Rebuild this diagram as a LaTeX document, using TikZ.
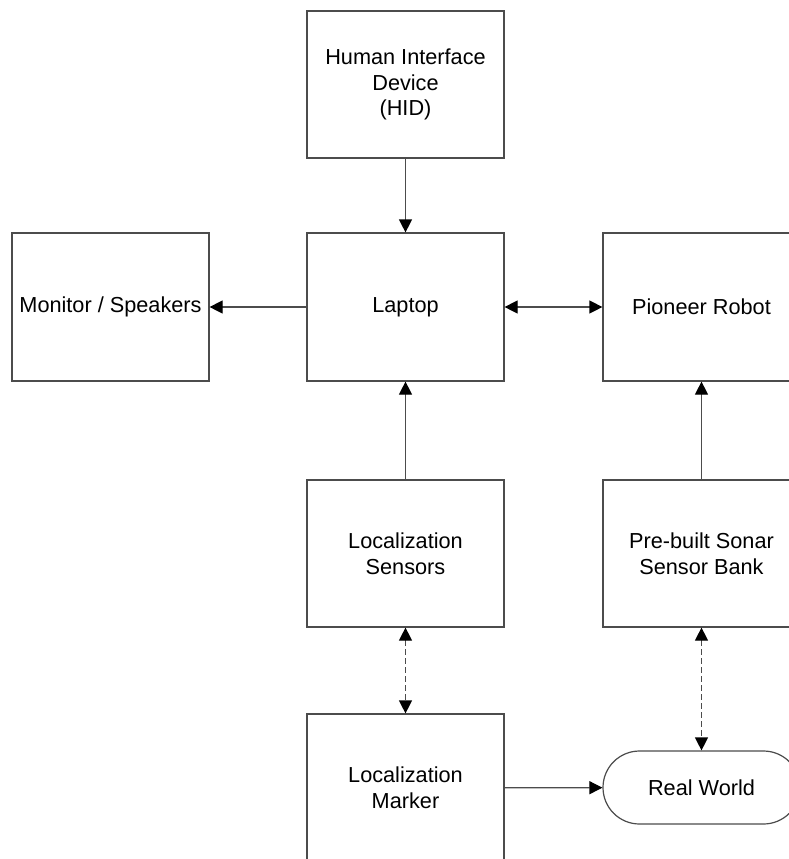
\documentclass[tikz,border=0pt]{standalone}
\usepackage{fontspec}
\setmainfont{Liberation Sans}
\usetikzlibrary{arrows.meta}
\tikzset{
  block/.style={draw=black!70, line width=0.6pt, fill=white, align=center,
    font=\fontsize{10.85}{12.9}\selectfont, inner sep=0pt,
    minimum width=98.5pt, minimum height=74pt},
  link/.style={draw=black!70, line width=0.6pt, -{Triangle[length=6.5pt,width=6.5pt,color=black]}},
  biglink/.style={link, {Triangle[length=6.5pt,width=6.5pt,color=black]}-{Triangle[length=6.5pt,width=6.5pt,color=black]}},
  radiolink/.style={biglink, dash pattern=on 3pt off 1.5pt}
}
\begin{document}
\begin{tikzpicture}[x=0.5pt, y=-0.5pt]
  \useasboundingbox (0,0) rectangle (789,859);
  \clip (0,0) rectangle (789,859);
  % blocks
  \node[block, minimum height=73.5pt] (hid) at (405.5, 84.5) {Human Interface\\Device\\(HID)};
  \node[block] (monitor) at (110.5, 307) {Monitor / Speakers};
  \node[block] (laptop) at (405.5, 307) {Laptop};
  \node[block] (robot) at (701.5, 307) {Pioneer Robot};
  \node[block, minimum height=73.5pt] (locsensors) at (405.5, 553.5) {Localization\\Sensors};
  \node[block, minimum height=73.5pt] (sonar) at (701.5, 553.5) {Pre-built Sonar\\Sensor Bank};
  \node[block] (locmarker) at (405.5, 788) {Localization\\Marker};
  \node[block, minimum height=36.5pt, rounded corners=18.25pt] (world) at (701.5, 787.5) {Real World};
  % connectors
  \draw[link] (hid) -- (laptop);
  \draw[link] (laptop) -- (monitor);
  \draw[biglink] (laptop) -- (robot);
  \draw[link] (locsensors) -- (laptop);
  \draw[link] (sonar) -- (robot);
  \draw[radiolink] (locsensors) -- (locmarker);
  \draw[radiolink] (sonar) -- (world);
  \draw[link] (locmarker) -- (world);
\end{tikzpicture}
\end{document}
